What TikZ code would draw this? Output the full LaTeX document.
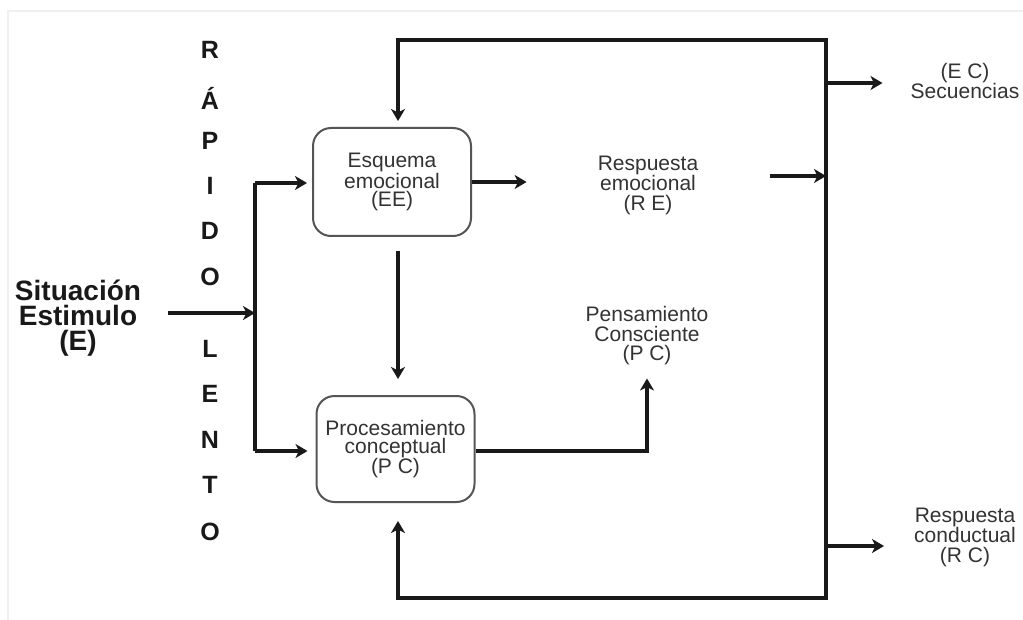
\documentclass[tikz,border=0pt]{standalone}
\usepackage{fontspec}
\setmainfont{Liberation Sans}
\usetikzlibrary{arrows.meta,calc}
\definecolor{txt}{HTML}{333333}
\definecolor{bx}{HTML}{555555}
\begin{document}
\begin{tikzpicture}[x=1pt,y=-1pt,
  conn/.style={line width=3.2pt,draw=black!90},
  arr/.style={conn,-{Stealth[length=12pt,width=14pt,inset=3.5pt]}},
  box/.style={draw=bx,line width=2pt,rounded corners=18pt,minimum width=158pt,align=center,font=\fontsize{21}{18}\selectfont,text=txt,inner sep=0pt},
  lbl/.style={align=center,font=\fontsize{21}{19.5}\selectfont,text=txt,inner sep=0pt},
  bigl/.style={font=\bfseries\fontsize{28}{25}\selectfont,align=center,text=black!90,inner sep=0pt},
  letter/.style={font=\bfseries\fontsize{25}{25}\selectfont,anchor=base,text=black!90,inner sep=0pt}]
\useasboundingbox (0,0) rectangle (1023,620);
\fill[white] (0,0) rectangle (1023,620);
\draw[gray!12,line width=2pt] (8,620) -- (8,11) -- (1023,11);

% nodes
\node[box,minimum height=108pt] (ee) at (392,182) {Esquema\\emocional\\(EE)};
\node[box,minimum height=106pt] (pc) at (395.5,449) {Procesamiento\\conceptual\\(P C)};
\node[lbl] (re) at (648,185) {Respuesta\\emocional\\(R E)};
\node[lbl] (penc) at (647,336) {Pensamiento\\Consciente\\(P C)};
\node[lbl] (ec) at (965,81) {(E C)\\Secuencias};
\node[lbl] (rc) at (965,537) {Respuesta\\conductual\\(R C)};
\node[bigl] (stim) at (78,318) {Situación\\Estimulo\\(E)};

\foreach \l/\y [count=\i] in {R/59,Á/110,P/150,I/195,D/240,O/286,L/357,E/402,N/448,T/493,O/540}
  \node[letter] (let\i) at (210,\y) {\l};

% coordinates
\coordinate (tl) at (398,40);
\coordinate (tr) at (826,40);
\coordinate (br) at (826,598);
\coordinate (bl) at (398,598);
\coordinate (s0) at (168,313);
\coordinate (j) at (255,313);
\coordinate (jt) at (255,183);
\coordinate (jb) at (255,451);
\coordinate (r0) at (770,176);
\coordinate (r1) at (826,176);
\coordinate (o1) at (826,83);
\coordinate (o2) at (826,546);

% connectors
\draw[conn,line cap=rect] (tr) -- (br);
\draw[arr,shorten >=6pt] (tr) -- (tl) -- (tl |- ee.north);
\draw[arr,shorten >=18pt] (br) -- (bl) -- (bl |- pc.south);
\draw[arr,shorten >=16pt,shorten <=14pt] (tl |- ee.south) -- (tl |- pc.north);
\draw[conn] (jt) -- (jb);
\draw[arr] (s0) -- (j);
\draw[arr,shorten >=5pt] (jt) -- (jt -| ee.west);
\draw[arr,shorten >=8pt] (jb) -- (jb -| pc.west);
\draw[arr,shorten >=71pt] (ee.east) -- (ee.east -| re.west);
\draw[arr] (r0) -- (r1);
\draw[arr,shorten >=13pt] (pc.east |- jb) -| (penc.south);
\draw[arr,shorten >=28pt] (o1) -- (o1 -| ec.west);
\draw[arr,shorten >=30pt] (o2) -- (o2 -| rc.west);
\end{tikzpicture}
\end{document}
